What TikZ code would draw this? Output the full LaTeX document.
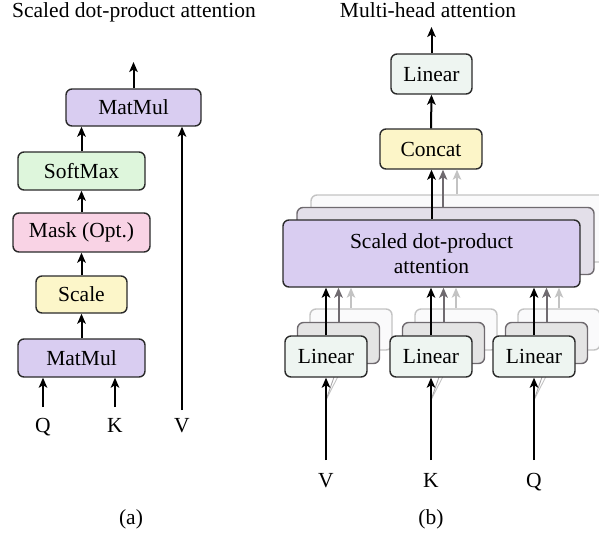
\documentclass[tikz,border=0pt]{standalone}
\usepackage{fontspec}
\setmainfont{Liberation Serif}
\usetikzlibrary{arrows.meta}
\definecolor{boxline}{HTML}{2A2A2A}
\definecolor{matmulfill}{HTML}{D9CDF1}
\definecolor{softfill}{HTML}{DEF6DC}
\definecolor{maskfill}{HTML}{F9D3E5}
\definecolor{scalefill}{HTML}{FCF6C9}
\definecolor{linfill}{HTML}{EEF5F1}
\definecolor{concatfill}{HTML}{FCF5C8}
\definecolor{midgrey}{HTML}{6F6A6F}
\definecolor{lightgrey}{HTML}{C3C3C3}
\definecolor{midfillpurple}{HTML}{E3DFE9}
\definecolor{midfillgrey}{HTML}{E4E4E4}
\definecolor{farfill}{HTML}{FAFAFB}
\begin{document}
\begin{tikzpicture}[x=1pt,y=-1pt,
  font=\fontsize{21.5}{24.5}\selectfont,
  box/.style={draw=boxline, line width=1.4pt, rounded corners=6pt, inner sep=0pt, align=center},
  midbox/.style={box, draw=midgrey},
  farbox/.style={box, draw=lightgrey, fill=farfill},
  linbox/.style={minimum width=82pt, minimum height=41pt},
  sdpabox/.style={minimum width=297pt, minimum height=67pt},
  lbl/.style={anchor=base, inner sep=0pt},
  arr/.style={-{Stealth[length=10pt,width=8.5pt,inset=2.5pt]}, line width=2pt, black},
  midarr/.style={arr, midgrey},
  lightarr/.style={-{Stealth[length=10pt,width=8.5pt,inset=2.5pt]}, line width=1.4pt, lightgrey},
  feed/.style={line width=0.9pt}]
\useasboundingbox (0,0) rectangle (599,539);
\clip (0,0) rectangle (599,539);

% ---------------- (a) scaled dot-product attention ----------------
\node[lbl] (titlea) at (134,17.5) {Scaled dot-product attention};
\node[box, fill=matmulfill, minimum width=135pt, minimum height=37pt] (mmtop) at (133.5,107.5) {MatMul};
\node[box, fill=softfill, minimum width=127pt, minimum height=38pt] (soft) at (81.5,171) {SoftMax};
\node[box, fill=maskfill, minimum width=137pt, minimum height=39pt] (mask) at (81.5,232.5) {Mask (Opt.)};
\node[box, fill=scalefill, minimum width=91pt, minimum height=37pt] (scale) at (81.5,294.5) {Scale};
\node[box, fill=matmulfill, minimum width=127pt, minimum height=38pt] (mmbot) at (81.5,358) {MatMul};

\node[lbl] (qa) at (43,432) {Q};
\node[lbl] (ka) at (115,432) {K};
\node[lbl] (va) at (182,432) {V};
\coordinate (qain) at (43,407);
\coordinate (kain) at (115,407);
\coordinate (vain) at (182,410);
\coordinate (aout) at (133.5,62);

\draw[arr] (qain) -- (qain |- mmbot.south);
\draw[arr] (kain) -- (kain |- mmbot.south);
\draw[arr] (vain) -- (vain |- mmtop.south);
\draw[arr] (mmbot.north) -- (scale.south);
\draw[arr] (scale.north) -- (mask.south);
\draw[arr] (mask.north) -- (soft.south);
\draw[arr] (soft.north) -- (soft.north |- mmtop.south);
\draw[arr] (mmtop.north) -- (aout);

\node[lbl] (capa) at (131,524) {(a)};

% ---------------- (b) multi-head attention ----------------
\node[lbl] (titleb) at (428,17.5) {Multi-head attention};
\node[box, fill=linfill, minimum width=81pt, minimum height=40pt] (linout) at (431.5,74) {Linear};
\node[box, fill=concatfill, minimum width=102pt, minimum height=40pt] (concat) at (431,149) {Concat};

% stacked attention heads
\coordinate (sp) at (431.5,253.5);
\node[farbox, sdpabox] (sdpc) at ([shift={(28,-25)}]sp) {};
\node[midbox, sdpabox, fill=midfillpurple] (sdpb) at ([shift={(14,-12.5)}]sp) {};
\node[box, sdpabox, fill=matmulfill] (sdpa) at (sp) {Scaled dot-product\\attention};

% stacked linear projections
\foreach \i/\x/\inp in {1/326/V, 2/431/K, 3/534/Q}{
  \coordinate (lp\i) at (\x,356.5);
  \node[farbox, linbox] (lin\i c) at ([shift={(25,-27)}]lp\i) {};
  \node[midbox, linbox, fill=midfillgrey] (lin\i b) at ([shift={(12.5,-13.5)}]lp\i) {};
  \coordinate (fork\i) at (\x,400);
  \draw[feed, lightgrey] (fork\i) -- (lin\i c.south);
  \draw[feed, lightgrey!70!midgrey] (fork\i) -- (lin\i b.south);
  \node[box, linbox, fill=linfill] (lin\i) at (lp\i) {Linear};
  \node[lbl] (in\i) at (\x,487) {\inp};
  \coordinate (src\i) at (\x,460);
  \draw[arr] (src\i) -- (lin\i.south);
  \draw[arr] (lin\i.north) -- (lin\i.north |- sdpa.south);
  \draw[midarr] (lin\i b.north) -- (lin\i b.north |- sdpa.south);
  \draw[lightarr] (lin\i c.north) -- (lin\i c.north |- sdpa.south);
}

\draw[arr] (sdpa.north) -- (sdpa.north |- concat.south);
\draw[midarr] ([xshift=-2.5pt]sdpb.north) -- ([xshift=-2.5pt]sdpb.north |- concat.south);
\draw[lightarr] ([xshift=-2.5pt]sdpc.north) -- ([xshift=-2.5pt]sdpc.north |- concat.south);
\coordinate (bout) at (431.5,27);
\draw[arr] (concat.north) -- (linout.south);
\draw[arr] (linout.north) -- (bout);

\node[lbl] (capb) at (431,524) {(b)};
\end{tikzpicture}
\end{document}
